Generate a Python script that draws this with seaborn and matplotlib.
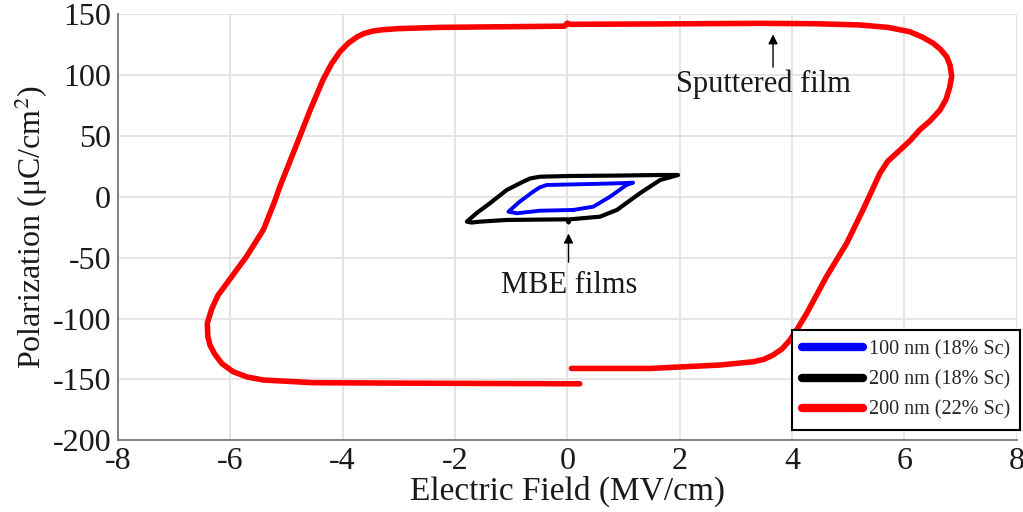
import numpy as np
import pandas as pd
import matplotlib
matplotlib.use("Agg")
import matplotlib.pyplot as plt
import seaborn as sns
from matplotlib.lines import Line2D

# ---- data ----
red_x = [0.07, 1.47, 2.71, 3.31, 3.50, 3.66, 3.82, 3.96, 4.10, 4.26, 4.61, 4.97, 5.26, 5.42, 5.56, 5.70, 5.92,
         6.10, 6.27, 6.45, 6.63, 6.74, 6.80, 6.84, 6.81, 6.75, 6.64, 6.51, 6.32, 6.09, 5.70, 5.20, 4.40, 3.43,
         1.47, 0.05, 0.0, -0.05, -1.2, -2.27, -3.0, -3.30, -3.46, -3.62, -3.75, -3.90, -4.05, -4.20, -4.35,
         -4.58, -4.81, -5.12, -5.22, -5.41, -5.71, -6.06, -6.22, -6.33, -6.41, -6.40, -6.36, -6.28, -6.15, -5.95,
         -5.70, -5.41, -4.52, -2.27, -1.0, 0.22]
red_y = [-141, -141, -138.2, -135.5, -133.5, -130, -125, -117.7, -108, -95.7, -65.7, -38.3, -10.9, 5, 19, 29, 38.3,
         46, 54.8, 62, 71, 80, 89, 98.5, 108, 115, 121, 126, 131, 135.5, 139, 141, 142, 142.3,
         141.8, 141.5, 142.5, 140, 139.5, 139, 138, 137, 136, 134, 131, 126, 119, 109, 96,
         71, 44, 8, -5, -27, -49, -71, -81, -92, -104, -115, -122, -129, -137, -143.7,
         -148, -150.5, -152.7, -153.2, -153.4, -153.6]

black_x = [0.02, 0.04, 0.58, 0.88, 1.29, 1.65, 1.97, 1.65, 0.8, 0.04, -0.49, -0.66, -0.79, -1.08, -1.38,
           -1.62, -1.79, -1.70, -1.56, -1.08, -0.5, 0.0, 0.02]
black_y = [-21, -18.6, -16.4, -10.9, 2.8, 13.7, 17.8, 17.8, 17.3, 17, 16.4, 15.0, 12.3, 5.5, -5.4,
           -13.6, -20.5, -21.2, -20.5, -19.1, -18.8, -18.6, -21]

blue_x = [0.1, 0.46, 0.76, 1.05, 1.17, 0.9, 0.4, -0.37, -0.50, -0.61, -0.85, -1.05, -0.9, -0.49, 0.1]
blue_y = [-10.9, -8.2, 0, 9.6, 11.5, 11.0, 10.4, 9.6, 7.5, 4.1, -4.1, -12.3, -13.6, -11.5, -10.9]

labels = ["100 nm (18% Sc)", "200 nm (18% Sc)", "200 nm (22% Sc)"]
colors = ["#0000ff", "#000000", "#ff0000"]

x_ticks = [-8, -6, -4, -2, 0, 2, 4, 6, 8]
y_ticks = [-200, -150, -100, -50, 0, 50, 100, 150]

df = pd.concat([
    pd.DataFrame({"E": red_x, "P": red_y, "film": labels[2]}),
    pd.DataFrame({"E": black_x, "P": black_y, "film": labels[1]}),
    pd.DataFrame({"E": blue_x, "P": blue_y, "film": labels[0]}),
], ignore_index=True)

sns.set_theme(style="whitegrid")
plt.rcParams['font.family'] = ['Liberation Serif', 'DejaVu Serif']
plt.rcParams['mathtext.fontset'] = 'stix'
plt.rcParams['axes.unicode_minus'] = False

fig = plt.figure(figsize=(10.23, 5.12), dpi=100)
ax = fig.add_axes([0.1153, 0.140, 0.8787, 0.8327])

widths = {labels[2]: 4.0, labels[1]: 3.0, labels[0]: 2.8}
for lab in [labels[2], labels[1], labels[0]]:
    sub = df[df["film"] == lab]
    sns.lineplot(data=sub, x="E", y="P", sort=False, estimator=None, ax=ax,
                 color=colors[labels.index(lab)], lw=widths[lab], legend=False,
                 solid_capstyle="round", solid_joinstyle="round")

ax.set_xlim(-8, 8)
ax.set_ylim(-200, 150)
ax.set_xticks(x_ticks)
ax.set_yticks(y_ticks)
ax.grid(True, color="#e3e3e3", lw=1.3)
ax.set_axisbelow(True)
for s in ["top", "right"]:
    ax.spines[s].set_visible(False)
for s in ["left", "bottom"]:
    ax.spines[s].set_color("#7a7a7a")
    ax.spines[s].set_linewidth(1.3)
ax.tick_params(axis="both", direction="in", length=6, width=1.2, color="#7a7a7a",
               labelsize=23, pad=5, labelcolor="#1a1a1a")
ax.set_xlabel("Electric Field (MV/cm)", fontsize=24, color="#1a1a1a", labelpad=0)
ax.set_ylabel("Polarization (μC/cm$^2$)", fontsize=23, color="#1a1a1a", labelpad=2)

# annotations
ax.annotate("", xy=(3.66, 135.5), xytext=(3.66, 104),
            arrowprops=dict(arrowstyle="-|>", color="black", lw=1.0, mutation_scale=14))
ax.text(3.49, 92.5, "Sputtered film", fontsize=22, ha="center", va="center", color="#1a1a1a")
ax.annotate("", xy=(0.02, -28), xytext=(0.02, -56),
            arrowprops=dict(arrowstyle="-|>", color="black", lw=1.0, mutation_scale=14))
ax.text(0.04, -72.5, "MBE films", fontsize=22, ha="center", va="center", color="#1a1a1a")

handles = [Line2D([0], [0], color=c, lw=6) for c in colors]
leg = fig.legend(handles, labels, loc="lower right", bbox_to_anchor=(1020/1023, (512-430)/512),
                 fontsize=14.5, frameon=True, fancybox=False, edgecolor="black",
                 handlelength=3.0, handletextpad=0.3, labelspacing=0.55, borderpad=0.5,
                 borderaxespad=0)
leg.get_frame().set_linewidth(1.5)
leg.get_frame().set_alpha(1)

fig.savefig("out.png", dpi=100)
